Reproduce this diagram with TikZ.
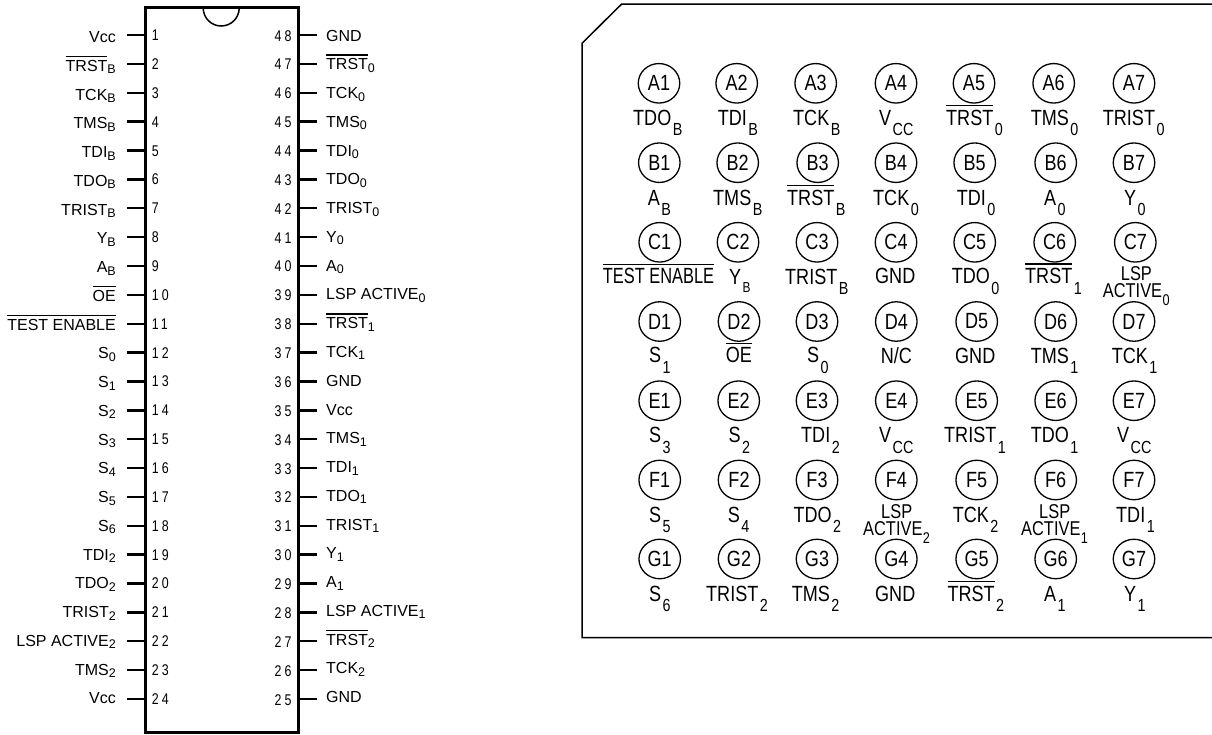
\documentclass[tikz,border=0pt]{standalone}
\usepackage{fontspec}
\usetikzlibrary{shapes.geometric}
\setmainfont{Liberation Sans}
\newfontfamily\condf[FakeStretch=.82]{Liberation Sans}
\newfontfamily\pinf[FakeStretch=.8,LetterSpace=20]{Liberation Sans}
\newcommand{\mainsz}{\condf\fontsize{22}{22}\selectfont}
\newcommand{\subsz}{\condf\fontsize{17.5}{17.5}\selectfont}
\newcommand{\smallsub}{\condf\fontsize{14.5}{14.5}\selectfont}
\newcommand{\lspsz}{\condf\fontsize{20}{16.7}\selectfont}
\newcommand{\pinsz}{\pinf\fontsize{15.5}{15.5}\selectfont}
\newsavebox{\ovbox}
% bar over text, #1 = height above baseline
\newcommand{\ovb}[2]{\sbox{\ovbox}{#2}\leavevmode\rlap{\rule[#1]{\wd\ovbox}{1.5pt}}\usebox{\ovbox}}
% right panel text with subscript
\newcommand{\ps}[2]{#1\hspace{1.5pt}\raisebox{-10.5pt}{\subsz #2}}
% left panel text with subscript
\newcommand{\ls}[2]{#1\raisebox{-2.5pt}{\fontsize{12.5}{12.5}\selectfont #2}}
\begin{document}
\begin{tikzpicture}[x=1pt,y=-1pt,
  ballst/.style={draw=black,line width=1.3pt,ellipse,minimum width=41.5pt,minimum height=39.5pt,inner sep=0pt,font=\mainsz},
  lab/.style={anchor=base west,inner sep=0pt,font=\mainsz},
  twost/.style={anchor=north west,inner sep=0pt,align=left,font=\lspsz},
  chipst/.style={draw=black,line width=3pt,minimum width=153.3pt,minimum height=724.8pt,inner sep=0pt,outer sep=0pt,anchor=north west},
  stubst/.style={line width=2.4pt,black},
  lleft/.style={anchor=base east,inner sep=0pt,font=\fontsize{16}{16}\selectfont},
  lright/.style={anchor=base west,inner sep=0pt,font=\fontsize{16}{16}\selectfont},
  pinnum/.style={anchor=base west,inner sep=0pt,font=\pinsz}]
\useasboundingbox (0,0) rectangle (1212,734);
% ---- DIP package
\node[chipst] (chip) at (145,7.5) {};
\draw[line width=1.5pt] (203.2,8) arc[start angle=180,end angle=0,radius=18];
\foreach \n/\t in {1/{Vcc},2/{\ls{\ovb{14pt}{TRST}}{B}},3/{\ls{TCK}{B}},4/{\ls{TMS}{B}},5/{\ls{TDI}{B}},6/{\ls{TDO}{B}},7/{\ls{TRIST}{B}},8/{\ls{Y}{B}},9/{\ls{A}{B}},10/{\ovb{14pt}{OE}},11/{\ovb{14pt}{TEST ENABLE}},12/{\ls{S}{0}},13/{\ls{S}{1}},14/{\ls{S}{2}},15/{\ls{S}{3}},16/{\ls{S}{4}},17/{\ls{S}{5}},18/{\ls{S}{6}},19/{\ls{TDI}{2}},20/{\ls{TDO}{2}},21/{\ls{TRIST}{2}},22/{\ls{LSP ACTIVE}{2}},23/{\ls{TMS}{2}},24/{Vcc}}{
  \pgfmathsetmacro{\ys}{35+(\n-1)*28.87}
  \pgfmathsetmacro{\yl}{42.7+(\n-1)*28.75}
  \pgfmathsetmacro{\yn}{40.7+(\n-1)*28.85}
  \coordinate (pl\n) at (126.7,\ys);
  \draw[stubst] (pl\n) -- (pl\n -| chip.west);
  \node[lleft] (ll\n) at (116,\yl) {\t};
  \node[pinnum] (nl\n) at (151.7,\yn) {\n};
}
\foreach \i/\n/\t in {0/48/{GND},1/47/{\ls{\ovb{14pt}{TRST}}{0}},2/46/{\ls{TCK}{0}},3/45/{\ls{TMS}{0}},4/44/{\ls{TDI}{0}},5/43/{\ls{TDO}{0}},6/42/{\ls{TRIST}{0}},7/41/{\ls{Y}{0}},8/40/{\ls{A}{0}},9/39/{\ls{LSP ACTIVE}{0}},10/38/{\ls{\ovb{14pt}{TRST}}{1}},11/37/{\ls{TCK}{1}},12/36/{GND},13/35/{Vcc},14/34/{\ls{TMS}{1}},15/33/{\ls{TDI}{1}},16/32/{\ls{TDO}{1}},17/31/{\ls{TRIST}{1}},18/30/{\ls{Y}{1}},19/29/{\ls{A}{1}},20/28/{\ls{LSP ACTIVE}{1}},21/27/{\ls{\ovb{14pt}{TRST}}{2}},22/26/{\ls{TCK}{2}},23/25/{GND}}{
  \pgfmathsetmacro{\ys}{35+\i*28.87}
  \pgfmathsetmacro{\yl}{41+\i*28.77}
  \pgfmathsetmacro{\yn}{41+\i*28.87}
  \coordinate (pr\n) at (316.7,\ys);
  \draw[stubst] (pr\n) -- (pr\n -| chip.east);
  \node[lright] (lr\n) at (326,\yl) {\t};
  \node[pinnum] (nr\n) at (274.5,\yn) {\n};
}
% ---- BGA outline
\draw[line width=1.5pt] (1212,4) -- (621.7,4) -- (582,43.3) -- (582,637.7) -- (1212,637.7);
% ---- balls
\foreach \nm/\x/\y in {
A1/659/83.3,A2/736.7/83.3,A3/815.7/83.3,A4/896/83.3,A5/974/83.3,A6/1053.7/83.3,A7/1134/83.3,
B1/659.3/162.7,B2/737.7/162.7,B3/817.7/162.7,B4/896/162.7,B5/974.7/162.7,B6/1055.7/162.7,B7/1134/162.7,
C1/659.7/242.3,C2/738/242.3,C3/817/242.3,C4/896/242.3,C5/974.7/242.3,C6/1054.7/242.3,C7/1135.3/242.3,
D1/659.7/321.5,D2/739/321.5,D3/817/321.5,D4/896.3/321.5,D5/976.7/321.5,D6/1055.7/321.5,D7/1134/321.5,
E1/659.7/400.7,E2/738.7/400.7,E3/817/400.7,E4/896.3/400.7,E5/976.7/400.7,E6/1055.7/400.7,E7/1134/400.7,
F1/659.7/480,F2/739/480,F3/817/480,F4/896.3/480,F5/976.7/480,F6/1055.7/480,F7/1134/480,
G1/659.7/559,G2/739/559,G3/817/559,G4/896.3/559,G5/976.7/559,G6/1055.7/559,G7/1134/559}{
  \node[ballst] (\nm) at (\x,\y) {\nm};
}
% ---- ball labels
\foreach \nm/\x/\y/\t in {
A1/633/125/{\ps{TDO}{B}},A2/717.7/125/{\ps{TDI}{B}},A3/793/125/{\ps{TCK}{B}},A4/879/125/{\ps{V}{CC}},A5/946/125/{\ps{\ovb{19pt}{TRST}}{0}},A6/1030.7/125/{\ps{TMS}{0}},A7/1102.7/125/{\ps{TRIST}{0}},
B1/647.7/205/{\ps{A}{B}},B2/713/205/{\ps{TMS}{B}},B3/787/205/{\ps{\ovb{19pt}{TRST}}{B}},B4/873/205/{\ps{TCK}{0}},B5/956.7/205/{\ps{TDI}{0}},B6/1044/205/{\ps{A}{0}},B7/1124/205/{\ps{Y}{0}},
C1/602.7/283/{\ovb{18pt}{\scalebox{.91}[1]{TEST ENABLE}}},C2/729/284/{Y\hspace{1.5pt}\raisebox{-8pt}{\smallsub B}},C3/785/284/{\ps{TRIST}{B}},C4/875/283.3/{GND},C5/951.7/283.5/{\ps{TDO}{0}},C6/1025/283.5/{\ps{\ovb{19pt}{TRST}}{1}},
D1/649/362.7/{\ps{S}{1}},D2/725.7/362.7/{\ovb{18.7pt}{OE}},D3/807/362.7/{\ps{S}{0}},D4/880.7/363/{N/C},D5/955/363/{GND},D6/1030.7/363/{\ps{TMS}{1}},D7/1111.7/363/{\ps{TCK}{1}},
E1/649/442.7/{\ps{S}{3}},E2/728.3/442.7/{\ps{S}{2}},E3/801/442.7/{\ps{TDI}{2}},E4/879/442.7/{\ps{V}{CC}},E5/944/442.7/{\ps{TRIST}{1}},E6/1030.7/442.7/{\ps{TDO}{1}},E7/1117/442.7/{\ps{V}{CC}},
F1/649/522.3/{\ps{S}{5}},F2/727.7/522.3/{\ps{S}{4}},F3/793.3/522.3/{\ps{TDO}{2}},F5/952.7/522/{\ps{TCK}{2}},F7/1116/522/{\ps{TDI}{1}},
G1/649/601/{\ps{S}{6}},G2/706/601/{\ps{TRIST}{2}},G3/791.7/601/{\ps{TMS}{2}},G4/875/601/{GND},G5/947.3/601/{\ps{\ovb{19pt}{TRST}}{2}},G6/1044/601/{\ps{A}{1}},G7/1124/601/{\ps{Y}{1}}}{
  \node[lab] (t\nm) at (\x,\y) {\t};
}
% ---- two-line labels
\foreach \nm/\ax/\ay/\s in {C7/1102.7/266.2/0,F4/863/504.5/2,F6/1021/504.5/1}{
  \node[twost] (t\nm) at (\ax,\ay) {\hspace*{18pt}LSP\\ACTIVE\hspace{.5pt}\raisebox{-8.5pt}{\condf\fontsize{15.5}{15.5}\selectfont\s}};
}
\end{tikzpicture}
\end{document}
